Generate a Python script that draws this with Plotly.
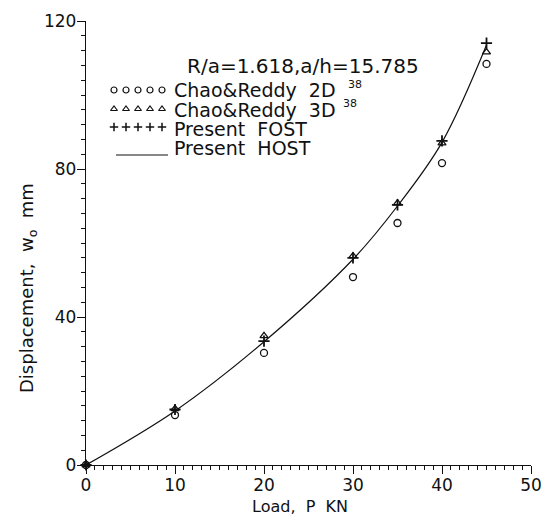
import plotly.graph_objects as go

# Data
load = [0, 10, 20, 30, 35, 40, 45]
chao_2d = [0, 13.5, 30.3, 50.8, 65.4, 81.6, 108.4]
chao_3d = [0, 15.2, 34.9, 56.5, 70.8, 87.0, 111.6]
fost = [0, 15.0, 33.5, 56.0, 70.3, 87.6, 114.0]
host = [0, 14.6, 33.3, 55.6, 70.0, 87.2, 113.5]

x_ticks = [0, 10, 20, 30, 40, 50]
y_ticks = [0, 40, 80, 120]

FONT = "DejaVu Sans"
BLACK = "#111111"

fig = go.Figure()

fig.add_trace(go.Scatter(x=load, y=host, mode="lines", line=dict(color=BLACK, width=1.2, shape="spline"),
                         showlegend=False, cliponaxis=False))
fig.add_trace(go.Scatter(x=load, y=chao_2d, mode="markers",
                         marker=dict(symbol="circle-open", size=7, color=BLACK, line=dict(width=1.3)),
                         showlegend=False, cliponaxis=False))
fig.add_trace(go.Scatter(x=load, y=chao_3d, mode="markers",
                         marker=dict(symbol="triangle-up-open", size=7, color=BLACK, line=dict(width=1.3)),
                         showlegend=False, cliponaxis=False))
fig.add_trace(go.Scatter(x=load, y=fost, mode="markers",
                         marker=dict(symbol="cross-thin-open", size=8, color=BLACK, line=dict(width=1.8)),
                         showlegend=False, cliponaxis=False))

# Page offset (browser body margin) and plot-area geometry in page pixels
OFF = 8
PW, PH = 556, 518
PL, PR, PT, PB = 86, 531, 21, 465   # plot-area edges in page pixels

W, H = PW - OFF, PH - OFF
L, T = PL - OFF, PT - OFF
R, B = W - (PR - OFF), H - (PB - OFF)


def px_x(p):
    return (p - PL) / (PR - PL)


def px_y(p):
    return (PB - p) / (PB - PT)


# Custom legend keys on an overlay axis (0..1 coordinates)
key_x = [px_x(p) for p in (114, 126, 138, 150, 162)]
fig.add_trace(go.Scatter(x=key_x, y=[px_y(90)] * 5, xaxis="x2", yaxis="y2", mode="markers",
                         marker=dict(symbol="circle-open", size=6, color=BLACK, line=dict(width=1.2)),
                         showlegend=False))
fig.add_trace(go.Scatter(x=key_x, y=[px_y(109)] * 5, xaxis="x2", yaxis="y2", mode="markers",
                         marker=dict(symbol="triangle-up-open", size=6, color=BLACK, line=dict(width=1.2)),
                         showlegend=False))
fig.add_trace(go.Scatter(x=key_x, y=[px_y(127)] * 5, xaxis="x2", yaxis="y2", mode="markers",
                         marker=dict(symbol="cross-thin-open", size=6, color=BLACK, line=dict(width=1.5)),
                         showlegend=False))
fig.add_trace(go.Scatter(x=[px_x(116), px_x(168)], y=[px_y(155)] * 2, xaxis="x2", yaxis="y2", mode="lines",
                         line=dict(color=BLACK, width=1.2), showlegend=False))

annotations = [
    dict(text="R/a=1.618,a/h=15.785", x=px_x(185), y=px_y(66), size=20),
    dict(text="Chao&Reddy  2D", x=px_x(172), y=px_y(90), size=19),
    dict(text="38", x=px_x(346), y=px_y(84), size=11),
    dict(text="Chao&Reddy  3D", x=px_x(172), y=px_y(110), size=19),
    dict(text="38", x=px_x(341), y=px_y(103), size=11),
    dict(text="Present  FOST", x=px_x(172), y=px_y(129), size=19),
    dict(text="Present  HOST", x=px_x(172), y=px_y(148), size=19),
]
for a in annotations:
    s = a.pop("size")
    a.update(xref="paper", yref="paper", xanchor="left", yanchor="middle", showarrow=False,
             font=dict(family=FONT, size=s, color=BLACK))

annotations.append(dict(text="Load,  P  KN", x=px_x(300), y=px_y(507), xref="paper", yref="paper",
                        xanchor="center", yanchor="middle", showarrow=False,
                        font=dict(family=FONT, size=16, color=BLACK)))
annotations.append(dict(text="Displacement,  w<sub>o</sub>  mm", x=px_x(28), y=px_y(288), xref="paper", yref="paper",
                        xanchor="center", yanchor="middle", showarrow=False, textangle=-90,
                        font=dict(family=FONT, size=18, color=BLACK)))

fig.update_layout(
    width=W, height=H,
    margin=dict(l=L, r=R, t=T, b=B, autoexpand=False),
    paper_bgcolor="white", plot_bgcolor="white",
    font=dict(family=FONT, size=17, color=BLACK),
    showlegend=False,
    annotations=annotations,
    xaxis=dict(range=[0, 50], tickvals=x_ticks, ticktext=[str(v) for v in x_ticks], automargin=False,
               showgrid=False, zeroline=False, showline=True, linecolor=BLACK, linewidth=1.3,
               ticks="outside", ticklen=8, tickwidth=1.3, tickcolor=BLACK, ticklabelstandoff=-4,
               minor=dict(dtick=1, ticks="outside", ticklen=4, tickwidth=1, tickcolor=BLACK, showgrid=False),
               tickfont=dict(family=FONT, size=17, color=BLACK)),
    yaxis=dict(range=[0, 120], tickvals=y_ticks, ticktext=[str(v) for v in y_ticks], automargin=False,
               showgrid=False, zeroline=False, showline=True, linecolor=BLACK, linewidth=1.3,
               ticks="outside", ticklen=8, tickwidth=1.3, tickcolor=BLACK, ticklabelstandoff=-3,
               minor=dict(dtick=4, ticks="outside", ticklen=4, tickwidth=1, tickcolor=BLACK, showgrid=False),
               tickfont=dict(family=FONT, size=17, color=BLACK)),
    xaxis2=dict(range=[0, 1], overlaying="x", visible=False, fixedrange=True, automargin=False),
    yaxis2=dict(range=[0, 1], overlaying="y", visible=False, fixedrange=True, automargin=False),
)

fig.write_html("out.html")
